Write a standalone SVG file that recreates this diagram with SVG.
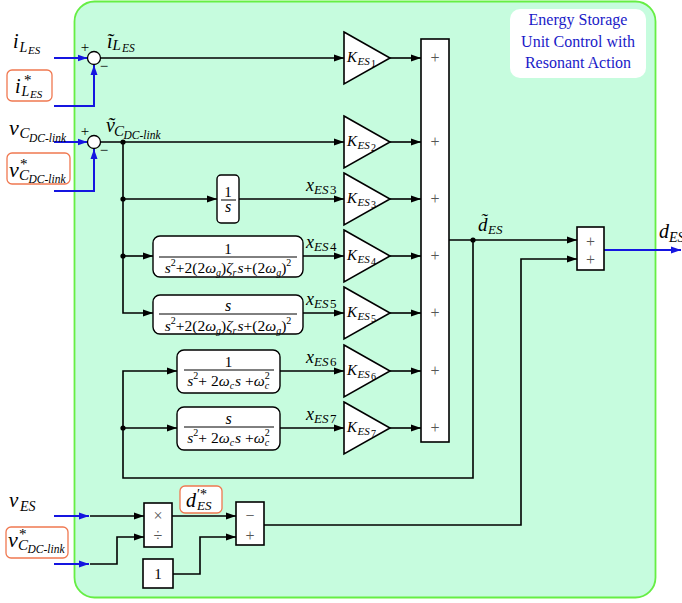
<svg xmlns="http://www.w3.org/2000/svg" width="682" height="603" viewBox="0 0 682 603">
<defs>
<marker id="ak" markerWidth="10" markerHeight="8" refX="10" refY="4" orient="auto" markerUnits="userSpaceOnUse"><path d="M0,0.5 L10,4 L0,7.5 z" fill="#000"/></marker>
<marker id="ab" markerWidth="10" markerHeight="8" refX="10" refY="4" orient="auto" markerUnits="userSpaceOnUse"><path d="M0,0.5 L10,4 L0,7.5 z" fill="#1515e0"/></marker>
<style>
.ln{fill:none;stroke:#000;stroke-width:1.6}
.ar{marker-end:url(#ak)}
.bl{fill:none;stroke:#1515e0;stroke-width:2;marker-end:url(#ab)}
.blk{fill:#fff;stroke:#000;stroke-width:1.6}
.tf{fill:#fff;stroke:#000;stroke-width:1.4}
.ob{fill:#fff;stroke:#f07850;stroke-width:1.3}
.dot{fill:#000}
text{font-family:"Liberation Serif","DejaVu Serif",serif;fill:#000}
.m{font-style:italic}
.n{font-style:normal}
.op{fill:#555;font-size:16px;text-anchor:middle}
.lbl{fill:#1a1ac8;font-size:16px;text-anchor:middle}
</style>
</defs>

<rect id="panel" x="74.5" y="1.5" width="581" height="596" rx="20" fill="#c6fcde" stroke="#66ee44" stroke-width="1.8"/>

<g id="title">
<rect x="510" y="9" width="136" height="69" rx="10" fill="#fff"/>
<text class="lbl" x="578" y="25">Energy Storage</text>
<text class="lbl" x="578" y="47">Unit Control with</text>
<text class="lbl" x="578" y="68">Resonant Action</text>
</g>

<g id="connectors">
<path class="bl" d="M54,58 H87.5"/>
<path class="bl" d="M54,106 H94 V65"/>
<path class="bl" d="M54,142 H87.5"/>
<path class="bl" d="M54,191 H94 V149"/>
<path class="bl" d="M54,516 H89"/>
<path class="bl" d="M54,564 H89"/>
<path class="bl" d="M604,250 H681"/>
<path class="ln ar" d="M100.5,58 H344"/>
<path class="ln ar" d="M100.5,142 H344"/>
<path class="ln ar" d="M123,142 V313 H153"/>
<path class="ln ar" d="M123,199 H217"/>
<path class="ln ar" d="M123,256 H153"/>
<path class="ln ar" d="M239,199 H344"/>
<path class="ln ar" d="M303,256 H344"/>
<path class="ln ar" d="M303,313 H344"/>
<path class="ln ar" d="M280,371 H344"/>
<path class="ln ar" d="M280,428 H344"/>
<path class="ln ar" d="M390,58 H421"/>
<path class="ln ar" d="M390,142 H421"/>
<path class="ln ar" d="M390,199 H421"/>
<path class="ln ar" d="M390,256 H421"/>
<path class="ln ar" d="M390,313 H421"/>
<path class="ln ar" d="M390,371 H421"/>
<path class="ln ar" d="M390,428 H421"/>
<path class="ln ar" d="M449,240 H577"/>
<path class="ln ar" d="M473,240 V478 H123 V371 H177"/>
<path class="ln ar" d="M123,428 H177"/>
<path class="ln ar" d="M264,525 H521 V259 H577"/>
<path class="ln ar" d="M90,516 H144"/>
<path class="ln ar" d="M90,564 H117 V537 H144"/>
<path class="ln ar" d="M172,516 H236"/>
<path class="ln ar" d="M173,574 H200 V537 H236"/>
<circle class="dot" cx="123" cy="142" r="2.6"/>
<circle class="dot" cx="123" cy="199" r="2.6"/>
<circle class="dot" cx="123" cy="256" r="2.6"/>
<circle class="dot" cx="123" cy="428" r="2.6"/>
<circle class="dot" cx="473" cy="240" r="2.6"/>
</g>

<g id="in_iLES">
<text class="m"><tspan x="13" y="48" font-size="20">i</tspan><tspan x="19.5" y="52" font-size="14">L</tspan><tspan x="28" y="54" font-size="11">ES</tspan></text>
</g>
<g id="in_iLES_ref">
<rect class="ob" x="7" y="70" width="45" height="31" rx="5"/>
<text class="m"><tspan x="15" y="93" font-size="20">i</tspan><tspan class="n" x="24" y="85" font-size="15">*</tspan><tspan x="21.5" y="96" font-size="14">L</tspan><tspan x="30" y="98" font-size="11">ES</tspan></text>
</g>
<g id="in_vC">
<text class="m"><tspan x="9" y="135" font-size="22">v</tspan><tspan x="19.5" y="138" font-size="15">C</tspan><tspan x="29" y="142" font-size="11.5">DC-link</tspan></text>
</g>
<g id="in_vC_ref">
<rect class="ob" x="7" y="153" width="63" height="31" rx="5"/>
<text class="m"><tspan x="9" y="177" font-size="22">v</tspan><tspan class="n" x="20" y="169" font-size="15">*</tspan><tspan x="19" y="180" font-size="15">C</tspan><tspan x="28.5" y="183" font-size="11.5">DC-link</tspan></text>
</g>

<g id="sum1">
<circle cx="94" cy="58" r="6.5" fill="#fff" stroke="#000" stroke-width="1.3"/>
<text x="85" y="52" font-size="15" text-anchor="middle">+</text>
<text x="104" y="71" font-size="15" text-anchor="middle">−</text>
<text class="m"><tspan x="107" y="48" font-size="20">ĩ</tspan><tspan x="112.5" y="50" font-size="15">L</tspan><tspan x="122" y="52" font-size="11.5">ES</tspan></text>
</g>
<g id="sum2">
<circle cx="94" cy="142" r="6.5" fill="#fff" stroke="#000" stroke-width="1.3"/>
<text x="85" y="136" font-size="15" text-anchor="middle">+</text>
<text x="104" y="155" font-size="15" text-anchor="middle">−</text>
<text class="m"><tspan x="106" y="132" font-size="20">ṽ</tspan><tspan x="114" y="136" font-size="15">C</tspan><tspan x="123.5" y="139" font-size="11.5">DC-link</tspan></text>
</g>

<g id="int">
<rect class="tf" x="217" y="175" width="22" height="48" rx="4"/>
<text x="228" y="197" font-size="15" text-anchor="middle">1</text>
<line x1="221" y1="200" x2="236" y2="200" stroke="#000" stroke-width="1"/>
<text class="m" x="228" y="212" font-size="16" text-anchor="middle">s</text>
</g>
<g id="res4">
<rect class="tf" x="153" y="236" width="150" height="41" rx="7"/>
<text x="228" y="254" font-size="15" text-anchor="middle">1</text>
<line x1="159" y1="257" x2="297" y2="257" stroke="#000" stroke-width="1"/>
<text x="228" y="273" font-size="15.5" text-anchor="middle"><tspan class="m">s</tspan><tspan font-size="10" dy="-7">2</tspan><tspan dy="7">+2(2</tspan><tspan class="m">ω</tspan><tspan class="m" font-size="10" dy="3">g</tspan><tspan dy="-3">)</tspan><tspan class="m">ζ</tspan><tspan class="m" font-size="10" dy="3">r</tspan><tspan class="m" dy="-3" dx="1">s</tspan><tspan>+(2</tspan><tspan class="m">ω</tspan><tspan class="m" font-size="10" dy="3">g</tspan><tspan dy="-3">)</tspan><tspan font-size="10" dy="-7">2</tspan></text>
</g>
<g id="res5">
<rect class="tf" x="153" y="295" width="150" height="39" rx="7"/>
<text class="m" x="228" y="311" font-size="16" text-anchor="middle">s</text>
<line x1="159" y1="314" x2="297" y2="314" stroke="#000" stroke-width="1"/>
<text x="228" y="331" font-size="15.5" text-anchor="middle"><tspan class="m">s</tspan><tspan font-size="10" dy="-7">2</tspan><tspan dy="7">+2(2</tspan><tspan class="m">ω</tspan><tspan class="m" font-size="10" dy="3">g</tspan><tspan dy="-3">)</tspan><tspan class="m">ζ</tspan><tspan class="m" font-size="10" dy="3">r</tspan><tspan class="m" dy="-3" dx="1">s</tspan><tspan>+(2</tspan><tspan class="m">ω</tspan><tspan class="m" font-size="10" dy="3">g</tspan><tspan dy="-3">)</tspan><tspan font-size="10" dy="-7">2</tspan></text>
</g>
<g id="res6">
<rect class="tf" x="177" y="350" width="103" height="43" rx="7"/>
<text x="228.5" y="367" font-size="15" text-anchor="middle">1</text>
<line x1="184" y1="370" x2="274" y2="370" stroke="#000" stroke-width="1"/>
<text x="228.5" y="386" font-size="15.5" text-anchor="middle"><tspan class="m">s</tspan><tspan font-size="10" dy="-7">2</tspan><tspan dy="7">+ 2</tspan><tspan class="m">ω</tspan><tspan class="m" font-size="10" dy="3">c</tspan><tspan class="m" dy="-3" dx="1">s</tspan><tspan> +</tspan><tspan class="m">ω</tspan><tspan font-size="10" dy="-7">2</tspan><tspan class="m" font-size="10" dy="10" dx="-5">c</tspan></text>
</g>
<g id="res7">
<rect class="tf" x="177" y="407" width="103" height="43" rx="7"/>
<text class="m" x="228.5" y="424" font-size="16" text-anchor="middle">s</text>
<line x1="184" y1="427" x2="274" y2="427" stroke="#000" stroke-width="1"/>
<text x="228.5" y="443" font-size="15.5" text-anchor="middle"><tspan class="m">s</tspan><tspan font-size="10" dy="-7">2</tspan><tspan dy="7">+ 2</tspan><tspan class="m">ω</tspan><tspan class="m" font-size="10" dy="3">c</tspan><tspan class="m" dy="-3" dx="1">s</tspan><tspan> +</tspan><tspan class="m">ω</tspan><tspan font-size="10" dy="-7">2</tspan><tspan class="m" font-size="10" dy="10" dx="-5">c</tspan></text>
</g>

<g id="xlabels" class="m">
<text><tspan x="306" y="191" font-size="18">x</tspan><tspan x="314" y="194" font-size="13">ES</tspan><tspan class="n" x="330" y="194" font-size="13">3</tspan></text>
<text><tspan x="306" y="248" font-size="18">x</tspan><tspan x="314" y="251" font-size="13">ES</tspan><tspan class="n" x="330" y="251" font-size="13">4</tspan></text>
<text><tspan x="306" y="305" font-size="18">x</tspan><tspan x="314" y="308" font-size="13">ES</tspan><tspan class="n" x="330" y="308" font-size="13">5</tspan></text>
<text><tspan x="306" y="363" font-size="18">x</tspan><tspan x="314" y="366" font-size="13">ES</tspan><tspan class="n" x="330" y="366" font-size="13">6</tspan></text>
<text><tspan x="306" y="420" font-size="18">x</tspan><tspan x="314" y="423" font-size="13">ES</tspan><tspan class="n" x="330" y="423" font-size="13">7</tspan></text>
</g>

<g id="K1"><path class="blk" d="M344,32 L390,58 L344,84 z"/><text class="m"><tspan x="347" y="62" font-size="15">K</tspan><tspan x="357.5" y="65" font-size="11">ES</tspan><tspan class="n" x="371" y="67" font-size="10">1</tspan></text></g>
<g id="K2"><path class="blk" d="M344,116 L390,142 L344,168 z"/><text class="m"><tspan x="347" y="146" font-size="15">K</tspan><tspan x="357.5" y="149" font-size="11">ES</tspan><tspan class="n" x="371" y="151" font-size="10">2</tspan></text></g>
<g id="K3"><path class="blk" d="M344,173 L390,199 L344,225 z"/><text class="m"><tspan x="347" y="203" font-size="15">K</tspan><tspan x="357.5" y="206" font-size="11">ES</tspan><tspan class="n" x="371" y="208" font-size="10">3</tspan></text></g>
<g id="K4"><path class="blk" d="M344,230 L390,256 L344,282 z"/><text class="m"><tspan x="347" y="260" font-size="15">K</tspan><tspan x="357.5" y="263" font-size="11">ES</tspan><tspan class="n" x="371" y="265" font-size="10">4</tspan></text></g>
<g id="K5"><path class="blk" d="M344,287 L390,313 L344,339 z"/><text class="m"><tspan x="347" y="317" font-size="15">K</tspan><tspan x="357.5" y="320" font-size="11">ES</tspan><tspan class="n" x="371" y="322" font-size="10">5</tspan></text></g>
<g id="K6"><path class="blk" d="M344,345 L390,371 L344,397 z"/><text class="m"><tspan x="347" y="375" font-size="15">K</tspan><tspan x="357.5" y="378" font-size="11">ES</tspan><tspan class="n" x="371" y="380" font-size="10">6</tspan></text></g>
<g id="K7"><path class="blk" d="M344,402 L390,428 L344,454 z"/><text class="m"><tspan x="347" y="432" font-size="15">K</tspan><tspan x="357.5" y="435" font-size="11">ES</tspan><tspan class="n" x="371" y="437" font-size="10">7</tspan></text></g>

<g id="sumbar">
<rect class="blk" x="421" y="39" width="28" height="403"/>
<text class="op" x="435" y="63">+</text>
<text class="op" x="435" y="147">+</text>
<text class="op" x="435" y="204">+</text>
<text class="op" x="435" y="261">+</text>
<text class="op" x="435" y="318">+</text>
<text class="op" x="435" y="376">+</text>
<text class="op" x="435" y="433">+</text>
</g>
<g id="dES_tilde">
<text class="m"><tspan x="478" y="231" font-size="19">d̃</tspan><tspan x="488" y="234" font-size="13">ES</tspan></text>
</g>
<g id="sum_out">
<rect class="blk" x="577" y="227" width="27" height="43"/>
<text class="op" x="590.5" y="247">+</text>
<text class="op" x="590.5" y="265">+</text>
</g>
<g id="out_dES">
<text class="m"><tspan x="659" y="238" font-size="20">d</tspan><tspan x="669" y="242" font-size="14">ES</tspan></text>
</g>

<g id="in_vES">
<text class="m"><tspan x="9" y="507" font-size="21">v</tspan><tspan x="20" y="511" font-size="14">ES</tspan></text>
</g>
<g id="in_vC_ref2">
<rect class="ob" x="6" y="527" width="62" height="31" rx="5"/>
<text class="m"><tspan x="8" y="547" font-size="22">v</tspan><tspan class="n" x="19" y="539" font-size="15">*</tspan><tspan x="18" y="550" font-size="15">C</tspan><tspan x="27.5" y="553" font-size="11.5">DC-link</tspan></text>
</g>
<g id="muldiv">
<rect class="blk" x="144" y="503" width="28" height="44"/>
<text class="op" x="158" y="521">×</text>
<text class="op" x="158" y="541">÷</text>
</g>
<g id="one">
<rect class="blk" x="143" y="559" width="30" height="29"/>
<text x="158" y="579" font-size="15" text-anchor="middle">1</text>
</g>
<g id="dES_star">
<rect class="ob" x="180" y="486" width="42" height="27" rx="5"/>
<text class="m"><tspan x="186" y="507" font-size="20">d</tspan><tspan class="n" x="197" y="499" font-size="14">′*</tspan><tspan x="197" y="510" font-size="13">ES</tspan></text>
</g>
<g id="sub">
<rect class="blk" x="236" y="502" width="28" height="43"/>
<text class="op" x="250" y="521">−</text>
<text class="op" x="250" y="541">+</text>
</g>
</svg>
